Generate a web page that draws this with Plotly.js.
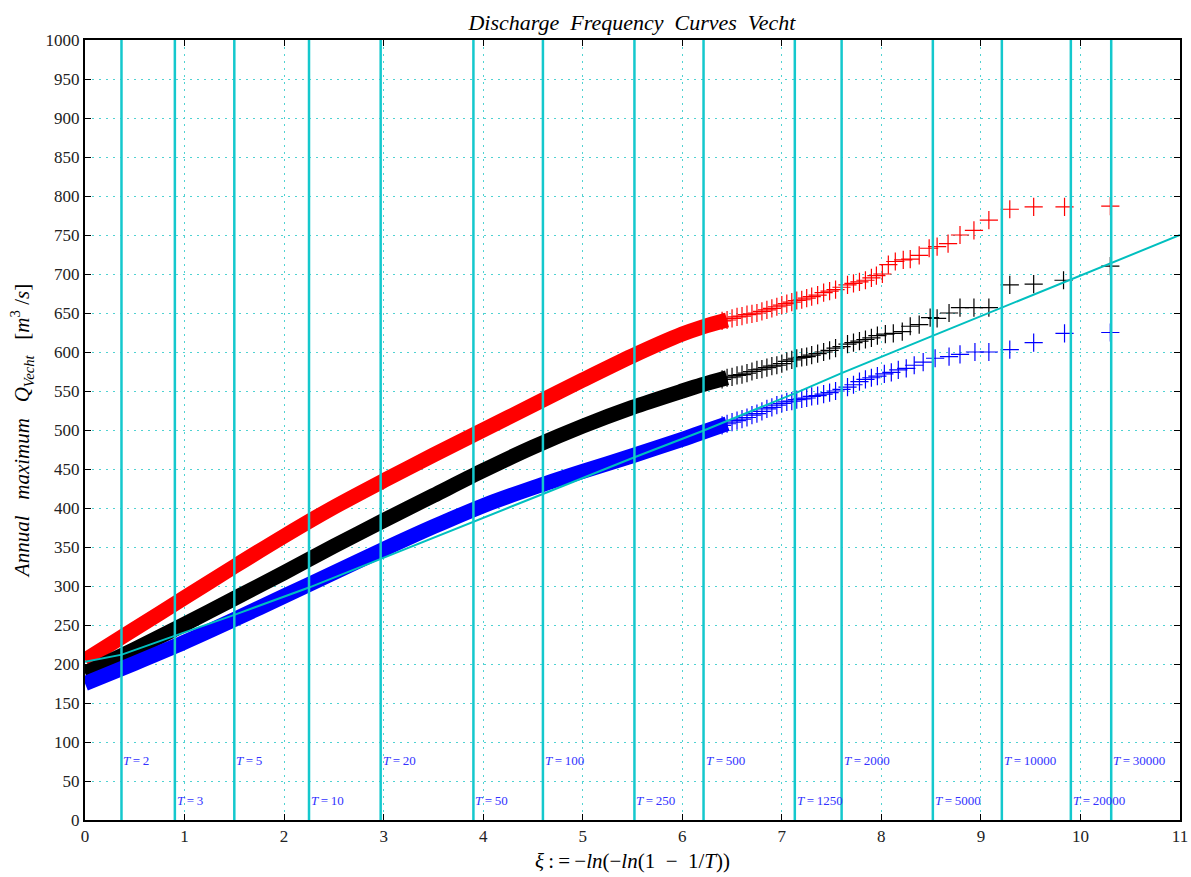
<!DOCTYPE html>
<html>
<head>
<meta charset="utf-8">
<script src="https://cdn.plot.ly/plotly-3.0.1.min.js"></script>
<style>html,body{margin:0;padding:0;background:#fff;}#chart{width:1191px;height:877px;}</style>
</head>
<body>
<div id="chart"></div>
<script>
// ---------- data ----------
// return periods of the vertical reference lines
const returnPeriods = [2, 3, 5, 10, 20, 50, 100, 250, 500, 1250, 2000, 5000, 10000, 20000, 30000];

// dense part of each curve (band of overlapping markers)
const redBandXi   = [0, 0.5, 1.0, 1.5, 2.0, 2.5, 3.0, 3.5, 4.0, 4.5, 5.0, 5.5, 6.0, 6.2, 6.45];
const redBandQ    = [205, 245, 285, 325, 364, 401, 435, 468, 500, 532, 564, 595, 623, 632, 641];
const blackBandXi = [0, 0.5, 1.0, 1.5, 2.0, 2.5, 3.0, 3.5, 4.0, 4.5, 5.0, 5.5, 6.0, 6.2, 6.45];
const blackBandQ  = [188, 219, 251, 284, 317, 351, 384, 416, 448, 478, 505, 529, 550, 558, 567];
const blueBandXi  = [0, 0.5, 1.0, 1.5, 2.0, 2.5, 3.0, 3.5, 4.0, 4.5, 5.0, 5.5, 6.0, 6.2, 6.45];
const blueBandQ   = [175, 201, 228, 257, 287, 317, 347, 376, 403, 426, 447, 467, 488, 497, 508];

// individual markers of the upper tail
const redXi = [6.40, 6.45, 6.50, 6.55, 6.60, 6.65, 6.70, 6.75, 6.80, 6.85, 6.90, 6.95, 7.00, 7.05, 7.10, 7.15, 7.20, 7.25, 7.30, 7.36, 7.42, 7.48, 7.54, 7.60, 7.66, 7.72, 7.78, 7.84, 7.90, 7.95, 8.01, 8.07, 8.14, 8.22, 8.29, 8.38, 8.48, 8.56, 8.67, 8.79, 8.93, 9.08, 9.29, 9.53, 9.84, 10.30];
const redQ  = [640, 641, 643, 645, 646, 648, 649, 650, 652, 654, 656, 658, 660, 662, 664, 666, 667, 669, 671, 673, 676, 678, 680, 683, 686, 688, 690, 692, 695, 698, 700, 712, 716, 718, 719, 724, 733, 735, 739, 750, 756, 769, 783, 786, 786, 787];
const blackXi = [6.40, 6.45, 6.50, 6.55, 6.60, 6.65, 6.70, 6.75, 6.80, 6.85, 6.90, 6.95, 7.00, 7.05, 7.10, 7.15, 7.20, 7.25, 7.30, 7.36, 7.42, 7.48, 7.54, 7.60, 7.66, 7.72, 7.78, 7.84, 7.90, 7.96, 8.04, 8.12, 8.21, 8.29, 8.38, 8.49, 8.56, 8.68, 8.79, 8.93, 9.08, 9.29, 9.53, 9.83, 10.30];
const blackQ  = [565, 567, 568, 570, 571, 573, 575, 577, 578, 580, 582, 583, 585, 588, 590, 592, 593, 594, 596, 598, 600, 602, 605, 607, 610, 612, 614, 616, 618, 621, 623, 624, 626, 633, 635, 644, 643, 650, 657, 657, 657, 686, 687, 692, 710];
const blueXi = [6.40, 6.45, 6.50, 6.55, 6.60, 6.65, 6.70, 6.75, 6.80, 6.85, 6.90, 6.95, 7.00, 7.05, 7.10, 7.15, 7.20, 7.25, 7.30, 7.36, 7.42, 7.48, 7.54, 7.60, 7.66, 7.72, 7.78, 7.84, 7.90, 7.96, 8.03, 8.10, 8.17, 8.25, 8.33, 8.42, 8.54, 8.68, 8.79, 8.94, 9.08, 9.29, 9.53, 9.84, 10.30];
const blueQ  = [506, 508, 510, 512, 514, 516, 519, 521, 524, 527, 529, 532, 534, 536, 537, 539, 540, 541, 543, 544, 546, 548, 550, 552, 555, 558, 562, 565, 567, 569, 572, 574, 577, 579, 583, 587, 592, 594, 597, 600, 600, 603, 612, 624, 625];

// fitted (cyan) line
const fitXi = [0, 0.37, 0.9, 1.5, 2.25, 2.97, 3.9, 4.6, 5.52, 6.21, 7.13, 7.6, 8.52, 9.21, 9.9, 10.31, 11];
const fitQ  = [203, 212, 236, 263, 298, 335, 383, 418, 465, 499, 547, 573, 621, 657, 693, 714, 750];

// ---------- drawing ----------
const CYAN = 'rgb(0,191,191)';
const SERIF = '"Liberation Serif", "DejaVu Serif", serif';
const SP = '\u00a0\u00a0';

function bandTrace(x, y, color) {
  return {x: x, y: y, type: 'scatter', mode: 'lines', hoverinfo: 'skip',
    line: {color: color, width: 15, shape: 'spline', smoothing: 0.8}, showlegend: false};
}
function markerTrace(x, y, color) {
  return {x: x, y: y, type: 'scatter', mode: 'markers', hoverinfo: 'skip',
    marker: {symbol: 'cross-thin-open', size: 13, color: color, line: {color: color, width: 1.2}},
    showlegend: false};
}

const xiOfT = returnPeriods.map(T => -Math.log(-Math.log(1 - 1 / T)));

const traces = [
  bandTrace(redBandXi, redBandQ, '#ff0000'),
  markerTrace(redXi, redQ, '#ff0000'),
  bandTrace(blackBandXi, blackBandQ, '#000000'),
  markerTrace(blackXi, blackQ, '#000000'),
  bandTrace(blueBandXi, blueBandQ, '#0000ff'),
  markerTrace(blueXi, blueQ, '#0000ff'),
  {x: fitXi, y: fitQ, type: 'scatter', mode: 'lines', hoverinfo: 'skip',
   line: {color: CYAN, width: 2}, showlegend: false}
];

const shapes = xiOfT.map(xi => ({
  type: 'line', xref: 'x', yref: 'paper', x0: xi, x1: xi, y0: 0, y1: 1,
  line: {color: 'rgb(20,200,205)', width: 2.5}, layer: 'above'
}));

const annotations = returnPeriods.map((T, i) => ({
  x: xiOfT[i], y: (i % 2 === 0) ? 76 : 25, xref: 'x', yref: 'y',
  xanchor: 'left', yanchor: 'middle', showarrow: false,
  text: '<i>T</i>\u2009=\u2009' + T,
  font: {family: SERIF, size: 13, color: 'rgb(50,50,255)'}
}));

const axisCommon = {
  showline: true, linecolor: '#000', linewidth: 2, mirror: 'ticks',
  ticks: 'inside', ticklen: 6, tickwidth: 1, tickcolor: '#000',
  showgrid: true, gridcolor: 'rgb(80,210,210)', gridwidth: 1, griddash: '2px,5px',
  zeroline: false, tickfont: {family: SERIF, size: 17, color: '#222'}
};

const layout = {
  width: 1191, height: 877,
  margin: {l: 85, r: 11, t: 40, b: 57},
  paper_bgcolor: '#fff', plot_bgcolor: '#fff',
  title: {
    text: '<i>Discharge' + SP + 'Frequency' + SP + 'Curves' + SP + 'Vecht</i>',
    font: {family: SERIF, size: 22, color: '#000'},
    x: 0.5306, xanchor: 'center', y: 0.975, yanchor: 'middle'
  },
  xaxis: Object.assign({}, axisCommon, {
    range: [0, 11], tick0: 0, dtick: 1,
    title: {text: '<i>ξ</i>\u2009:\u2009=\u2009−<i>ln</i>(−<i>ln</i>(1' + SP + '−' + SP + '1/<i>T</i>))',
            font: {family: SERIF, size: 21, color: '#000'}, standoff: 8}
  }),
  yaxis: Object.assign({}, axisCommon, {
    range: [0, 1000], tick0: 0, dtick: 50,
    title: {text: '<i>Annual' + SP + '\u00a0maximum' + SP + '\u00a0Q</i><sub><i>Vecht</i></sub>' + SP + '\u00a0[<i>m</i><sup>3</sup>\u00a0/<i>s</i>]',
            font: {family: SERIF, size: 21, color: '#000'}, standoff: 10}
  }),
  shapes: shapes,
  annotations: annotations
};

Plotly.newPlot('chart', traces, layout, {displayModeBar: false, staticPlot: true});
</script>
</body>
</html>
